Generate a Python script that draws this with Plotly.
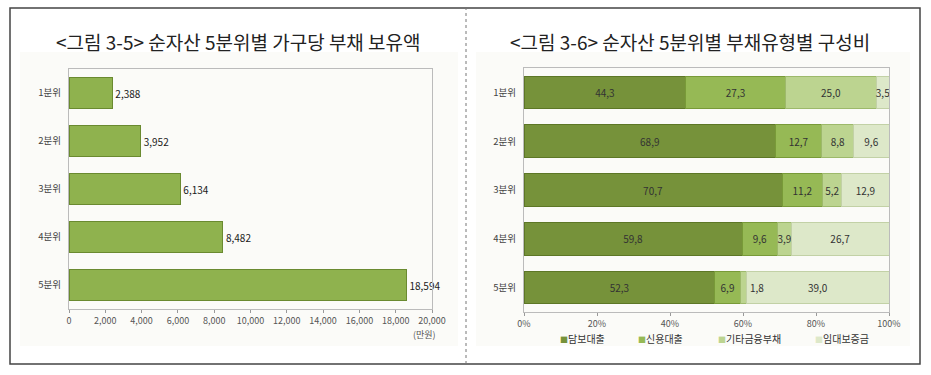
import plotly.graph_objects as go

# ---------------- data ----------------
quintiles = ["1분위", "2분위", "3분위", "4분위", "5분위"]
debt_amount = [2388, 3952, 6134, 8482, 18594]  # 만원

debt_types = ["담보대출", "신용대출", "기타금융부채", "임대보증금"]
mortgage = [44.3, 68.9, 70.7, 59.8, 52.3]
credit = [27.3, 12.7, 11.2, 9.6, 6.9]
other_fin = [25.0, 8.8, 5.2, 3.9, 1.8]
deposit = [3.5, 9.6, 12.9, 26.7, 39.0]
shares = [mortgage, credit, other_fin, deposit]

left_title = "&lt;그림 3-5&gt; 순자산 5분위별 가구당 부채 보유액"
right_title = "&lt;그림 3-6&gt; 순자산 5분위별 부채유형별 구성비"
unit_label = "(만원)"

# ---------------- styles ----------------
W, H = 931, 375
FONT = "Noto Sans CJK KR"
type_colors = ["#76923a", "#96b955", "#bcd490", "#dde8c9"]
type_lines = ["#5d7726", "#789a38", "#9db96b", "#c2d1a6"]
SMALL_SEG = 2.5  # segments narrower than this get their label just outside


def px(x):
    return x / W


def py(y):
    return 1 - y / H


def fmt_pct(v):
    return f"{v:.1f}".replace(".", ",")


fig = go.Figure()

# left chart
fig.add_trace(go.Bar(
    y=quintiles, x=debt_amount, orientation="h",
    marker=dict(color="#8fb24e", line=dict(color="#6a8a30", width=1)),
    width=0.63,
    text=[f"{v:,}" for v in debt_amount], textposition="outside",
    textfont=dict(size=12, color="#1a1a1a", family=FONT),
    cliponaxis=False,
    xaxis="x", yaxis="y", showlegend=False, hoverinfo="x+y",
))

# right chart
for name, vals, col, lc in zip(debt_types, shares, type_colors, type_lines):
    fig.add_trace(go.Bar(
        y=quintiles, x=vals, orientation="h", name=name,
        marker=dict(color=col, line=dict(color=lc, width=1)),
        width=0.67,
        text=[fmt_pct(v) if v >= SMALL_SEG else "" for v in vals],
        textposition="inside", insidetextanchor="middle",
        textfont=dict(size=10, color="#333", family=FONT),
        constraintext="none",
        xaxis="x2", yaxis="y2", showlegend=False,
    ))

axis_font = dict(size=9, color="#555", family=FONT)
cat_font = dict(size=9.5, color="#444", family=FONT)

fig.update_layout(
    width=W, height=H,
    margin=dict(l=0, r=0, t=0, b=0),
    paper_bgcolor="white", plot_bgcolor="rgba(0,0,0,0)",
    barmode="stack",
    uniformtext=dict(mode="show", minsize=10),
    font=dict(family=FONT),
    showlegend=False,
    xaxis=dict(domain=[px(69), px(432)], range=[0, 20000], dtick=2000,
               tickformat=",", tickfont=axis_font, showgrid=False,
               showline=True, linecolor="#bbb", mirror=True,
               ticks="outside", ticklen=3, tickcolor="#999", zeroline=False,
               anchor="y", automargin=False),
    yaxis=dict(domain=[py(309), py(69)], autorange="reversed",
               tickfont=cat_font, showgrid=False, showline=True,
               linecolor="#bbb", mirror=True, ticks="", ticklabelstandoff=5,
               anchor="x", automargin=False),
    xaxis2=dict(domain=[px(524), px(889)], range=[0, 100], dtick=20,
                ticksuffix="%", tickfont=axis_font, showgrid=False,
                showline=True, linecolor="#bbb", mirror=True,
                ticks="outside", ticklen=3, tickcolor="#999", zeroline=False,
                anchor="y2", automargin=False),
    yaxis2=dict(domain=[py(312), py(68)], autorange="reversed",
                tickfont=cat_font, showgrid=False, showline=True,
                linecolor="#bbb", mirror=True, ticks="", ticklabelstandoff=5,
                anchor="x2", automargin=False),
    bargap=0.3,
)

# background panels and borders
shapes = [
    dict(type="rect", xref="paper", yref="paper", x0=px(20), x1=px(458),
         y0=py(346), y1=py(52), fillcolor="#fbfbf8", line=dict(width=0),
         layer="below"),
    dict(type="rect", xref="paper", yref="paper", x0=px(476), x1=px(910),
         y0=py(346), y1=py(52), fillcolor="#fbfbf8", line=dict(width=0),
         layer="below"),
    dict(type="rect", xref="paper", yref="paper", x0=px(10), x1=px(920),
         y0=py(364), y1=py(8), line=dict(color="#444", width=1.5)),
    dict(type="line", xref="paper", yref="paper", x0=px(466), x1=px(466),
         y0=py(364), y1=py(8), line=dict(color="#777", width=1, dash="dot")),
]
fig.update_layout(shapes=shapes)

annotations = [
    dict(text=left_title, xref="paper", yref="paper", x=px(238), y=py(42),
         xanchor="center", yanchor="middle", showarrow=False,
         font=dict(size=19, color="#222", family=FONT)),
    dict(text=right_title, xref="paper", yref="paper", x=px(690), y=py(42),
         xanchor="center", yanchor="middle", showarrow=False,
         font=dict(size=19, color="#222", family=FONT)),
    dict(text=unit_label, xref="paper", yref="paper", x=px(424), y=py(334),
         xanchor="center", yanchor="middle", showarrow=False,
         font=dict(size=9, color="#555", family=FONT)),
]

# labels of narrow segments, placed just right of the segment
for i, q in enumerate(quintiles):
    v = other_fin[i]
    if v < SMALL_SEG:
        end = mortgage[i] + credit[i] + other_fin[i]
        annotations.append(dict(
            text=fmt_pct(v), x=end, y=q, xref="x2", yref="y2",
            xanchor="left", yanchor="middle", xshift=1, showarrow=False,
            font=dict(size=10, color="#333", family=FONT)))

# legend (small square markers in series colours)
legend_x = [558, 636, 716, 813]
for name, col, lx in zip(debt_types, type_colors, legend_x):
    annotations.append(dict(
        text=f"<span style='color:{col};font-size:8px'>■</span>{name}",
        xref="paper", yref="paper", x=px(lx), y=py(338),
        xanchor="left", yanchor="middle", showarrow=False,
        font=dict(size=10, color="#333", family=FONT)))

fig.update_layout(annotations=annotations)

fig.write_html(
    "out.html",
    config={"displayModeBar": False},
    post_script="document.body.style.margin='0';document.body.style.overflow='hidden';",
)
